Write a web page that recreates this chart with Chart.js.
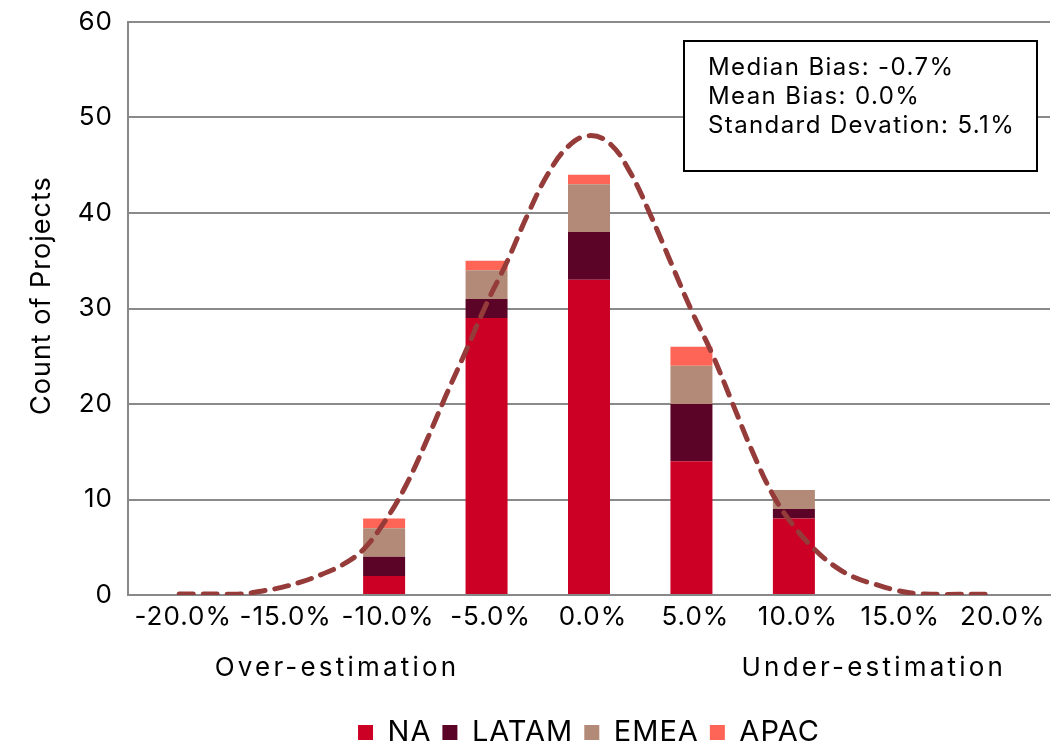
<!DOCTYPE html>
<html>
<head>
<meta charset="utf-8">
<script src="https://cdn.jsdelivr.net/npm/chart.js@4/dist/chart.umd.min.js"></script>
<style>
  body { margin: 0; background: #fff; }
</style>
</head>
<body>
<canvas id="biasChart" width="1054" height="747"></canvas>
<script>
// bins of estimation bias (bin centre in %, and its label)
const binCenters = [-20, -15, -10, -5, 0, 5, 10, 15, 20];
const categories = ['-20.0%', '-15.0%', '-10.0%', '-5.0%', '0.0%', '5.0%', '10.0%', '15.0%', '20.0%'];

// project counts per region, stacked
const naCounts    = [0, 0, 2, 29, 33, 14, 8, 0, 0];
const latamCounts = [0, 0, 2, 2, 5, 6, 1, 0, 0];
const emeaCounts  = [0, 0, 3, 3, 5, 4, 2, 0, 0];
const apacCounts  = [0, 0, 1, 1, 1, 2, 0, 0, 0];

// fitted normal curve (bias %, count)
const curveX = [-20, -19, -18, -17, -16, -15, -14, -13, -12, -11, -10, -9, -8, -7, -6, -5, -4, -3, -2, -1,
                0, 1, 2, 3, 4, 5, 6, 7, 8, 9, 10, 11, 12, 13, 14, 15, 16, 17, 18, 19.4];
const curveY = [0.1, 0.1, 0.1, 0.1, 0.4, 0.8, 1.4, 2.2, 3.2, 4.8, 7.6, 11.2, 15.8, 20.8, 25.6, 30.5, 34.9, 39.8, 44.1, 47.0,
                48.1, 47.3, 44.3, 39.8, 34.8, 29.8, 25.3, 20.1, 14.9, 10.4, 7.2, 4.8, 3.0, 1.8, 1.1, 0.5, 0.15, 0.07, 0.07, 0.07];

const yTicks = [0, 10, 20, 30, 40, 50, 60];
const statLines = ['Median Bias: -0.7%', 'Mean Bias: 0.0%', 'Standard Devation: 5.1%'];
const sideLabels = ['Over-estimation', 'Under-estimation'];

const FONT = 'Inter, "Noto Sans", sans-serif';

const extras = {
    id: 'extras',
    beforeLayout(chart) {
        chart.ctx.letterSpacing = '1px';
    },
    afterDraw(chart) {
        const ctx = chart.ctx;
        const area = chart.chartArea;
        const x = chart.scales.x;
        ctx.save();
        // stats box
        const bx = area.right - 366, by = area.top + 19, bw = 353, bh = 130;
        ctx.fillStyle = '#fff';
        ctx.fillRect(bx, by, bw, bh);
        ctx.strokeStyle = '#000';
        ctx.lineWidth = 2;
        ctx.strokeRect(bx, by, bw, bh);
        ctx.fillStyle = '#000';
        ctx.letterSpacing = '1.4px';
        ctx.font = '24px ' + FONT;
        ctx.textBaseline = 'alphabetic';
        ctx.textAlign = 'left';
        statLines.forEach((t, i) => ctx.fillText(t, bx + 24, by + 34 + i * 29));
        // over / under labels
        ctx.letterSpacing = '3.2px';
        ctx.font = '26px ' + FONT;
        ctx.textAlign = 'center';
        ctx.textBaseline = 'middle';
        ctx.fillText(sideLabels[0], x.getPixelForValue(-12.3), 668);
        ctx.fillText(sideLabels[1], x.getPixelForValue(13.9), 668);
        ctx.restore();
    }
};

const toPoints = counts => binCenters.map((c, i) => ({ x: c, y: counts[i] }));
const barStyle = { stack: 'regions', order: 1, yAxisID: 'y' };

new Chart(document.getElementById('biasChart').getContext('2d'), {
    type: 'bar',
    data: {
        datasets: [
            {
                type: 'line',
                label: 'Normal',
                data: curveX.map((x, i) => ({ x: x, y: curveY[i] })),
                yAxisID: 'y2',
                borderColor: '#953b39',
                borderWidth: 5,
                borderDash: [14, 10],
                borderCapStyle: 'round',
                pointRadius: 0,
                tension: 0.4,
                fill: false,
                order: 0
            },
            { label: 'NA', data: toPoints(naCounts), backgroundColor: '#cc0024', ...barStyle },
            { label: 'LATAM', data: toPoints(latamCounts), backgroundColor: '#5c0427', ...barStyle },
            { label: 'EMEA', data: toPoints(emeaCounts), backgroundColor: '#b38a77', ...barStyle },
            { label: 'APAC', data: toPoints(apacCounts), backgroundColor: '#ff6557', ...barStyle }
        ]
    },
    options: {
        responsive: false,
        animation: false,
        layout: { padding: { top: 22, right: 4, left: 0, bottom: -10 } },
        datasets: {
            bar: { categoryPercentage: 1, barPercentage: 0.41 }
        },
        scales: {
            x: {
                type: 'linear',
                stacked: true,
                offset: false,
                bounds: 'data',
                min: -22.5,
                max: 22.5,
                afterBuildTicks(scale) { scale.ticks = binCenters.map(v => ({ value: v })); },
                grid: { display: false, drawTicks: false, offset: false },
                border: { color: '#888', width: 2 },
                ticks: {
                    color: '#000',
                    font: { family: FONT, size: 26 },
                    padding: 7,
                    labelOffset: 4,
                    maxRotation: 0,
                    autoSkip: false,
                    callback: v => categories[binCenters.indexOf(v)]
                },
                afterFit(scale) {
                    scale.height = 112;
                    scale.paddingLeft = 0;
                    scale.paddingRight = 0;
                }
            },
            y: {
                stacked: true,
                min: 0,
                max: 60,
                afterBuildTicks(scale) { scale.ticks = yTicks.map(v => ({ value: v })); },
                grid: { color: '#8a8a8a', lineWidth: 2, drawTicks: false },
                border: { color: '#888', width: 2 },
                ticks: { color: '#000', font: { family: FONT, size: 26 }, padding: 15 },
                title: {
                    display: true,
                    text: '   Count of Projects',
                    color: '#000',
                    font: { family: FONT, size: 27 },
                    padding: { top: 26, bottom: 0 }
                },
                afterFit(scale) {
                    scale.width = 128;
                    scale.paddingTop = 0;
                    scale.paddingBottom = 0;
                }
            },
            y2: { type: 'linear', bounds: 'data', min: 0, max: 60, display: false }
        },
        plugins: {
            tooltip: { enabled: false },
            legend: {
                position: 'bottom',
                fullSize: false,
                labels: {
                    filter: item => item.text !== 'Normal',
                    color: '#000',
                    font: { family: FONT, size: 29 },
                    boxWidth: 15,
                    boxHeight: 15,
                    padding: 11
                }
            }
        }
    },
    plugins: [extras]
});
</script>
</body>
</html>
